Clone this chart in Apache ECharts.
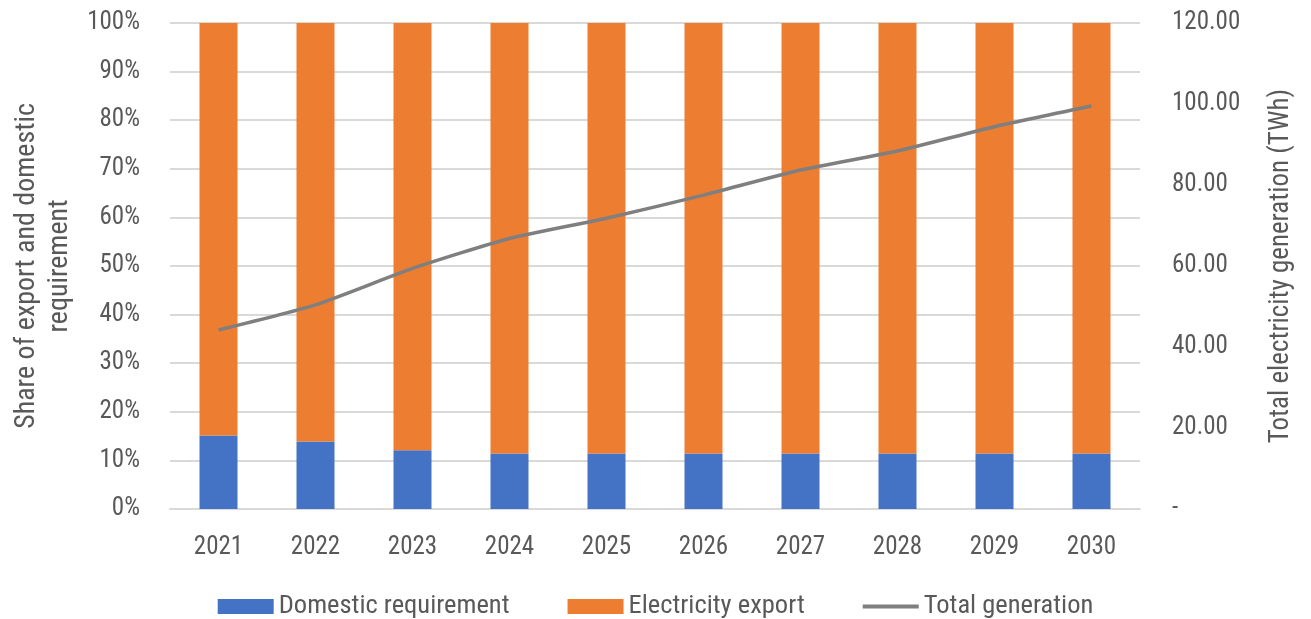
<!DOCTYPE html>
<html>
<head>
<meta charset="utf-8">
<script src="https://cdn.jsdelivr.net/npm/echarts@6/dist/echarts.min.js"></script>
<style>html,body{margin:0;padding:0;background:#fff;}#c{width:1311px;height:619px;}</style>
</head>
<body>
<div id="c"></div>
<script>
const years = ['2021','2022','2023','2024','2025','2026','2027','2028','2029','2030'];
const domesticShare = [15.1, 13.9, 12.1, 11.4, 11.4, 11.4, 11.4, 11.4, 11.4, 11.4];
const exportShare = [84.9, 86.1, 87.9, 88.6, 88.6, 88.6, 88.6, 88.6, 88.6, 88.6];
const totalGeneration = [44.2, 50.4, 59.4, 66.8, 71.8, 77.5, 83.7, 88.4, 94.4, 99.5];

const FONT = '"Roboto Condensed","Liberation Sans Narrow","DejaVu Sans Condensed",Roboto,sans-serif';
const TXT = '#595959';

const chart = echarts.init(document.getElementById('c'), null, {renderer: 'canvas'});
chart.setOption({
  animation: false,
  textStyle: {fontFamily: FONT, color: TXT},
  grid: {left: 170, right: 171, top: 23, bottom: 110, containLabel: false, outerBoundsMode: 'none'},
  legend: {
    top: 588,
    left: 'center',
    itemWidth: 56,
    itemHeight: 15,
    itemGap: 58,
    itemTextGap: 7,
    textStyle: {fontFamily: FONT, fontSize: 26.5, color: TXT},
    data: [
      {name: 'Domestic requirement', icon: 'rect'},
      {name: 'Electricity export', icon: 'rect'},
      {name: 'Total generation', icon: 'path://M0,0 L0.01,0 L0.01,0.01 Z M0,5.5 L56,5.5 L56,9.5 L0,9.5 Z M0,15 L0.01,15 L0.01,14.99 Z'}
    ]
  },
  xAxis: {
    type: 'category',
    data: years,
    axisLine: {lineStyle: {color: '#d9d9d9', width: 2}},
    axisTick: {show: false},
    axisLabel: {fontFamily: FONT, fontSize: 25, color: TXT, margin: 26}
  },
  yAxis: [
    {
      type: 'value', min: 0, max: 100, interval: 10,
      name: 'Share of export and domestic\nrequirement',
      nameLocation: 'middle', nameGap: 92,
      nameTextStyle: {fontFamily: FONT, fontSize: 28, color: TXT, lineHeight: 33},
      axisLabel: {formatter: '{value}%', fontFamily: FONT, fontSize: 25, color: TXT, margin: 30},
      axisLine: {show: false}, axisTick: {show: false},
      splitLine: {lineStyle: {color: '#d9d9d9', width: 2}}
    },
    {
      type: 'value', min: 0, max: 120, interval: 20,
      name: 'Total electricity generation (TWh)',
      nameLocation: 'middle', nameGap: 128,
      nameRotate: 90,
      nameTextStyle: {fontFamily: FONT, fontSize: 27, color: TXT},
      axisLabel: {
        formatter: v => v === 0 ? '-' : v.toFixed(2),
        fontFamily: FONT, fontSize: 25, color: TXT, margin: 32
      },
      axisLine: {show: false}, axisTick: {show: false},
      splitLine: {show: false}
    }
  ],
  series: [
    {
      name: 'Domestic requirement', type: 'bar', stack: 's', data: domesticShare,
      barWidth: 38, itemStyle: {color: '#4472c4'}
    },
    {
      name: 'Electricity export', type: 'bar', stack: 's', data: exportShare,
      barWidth: 38, itemStyle: {color: '#ed7d31'}
    },
    {
      name: 'Total generation', type: 'line', yAxisIndex: 1, data: totalGeneration,
      smooth: 0.2, symbol: 'none',
      lineStyle: {color: '#7f7f7f', width: 3.5},
      itemStyle: {color: '#7f7f7f'}
    }
  ]
});
</script>
</body>
</html>
